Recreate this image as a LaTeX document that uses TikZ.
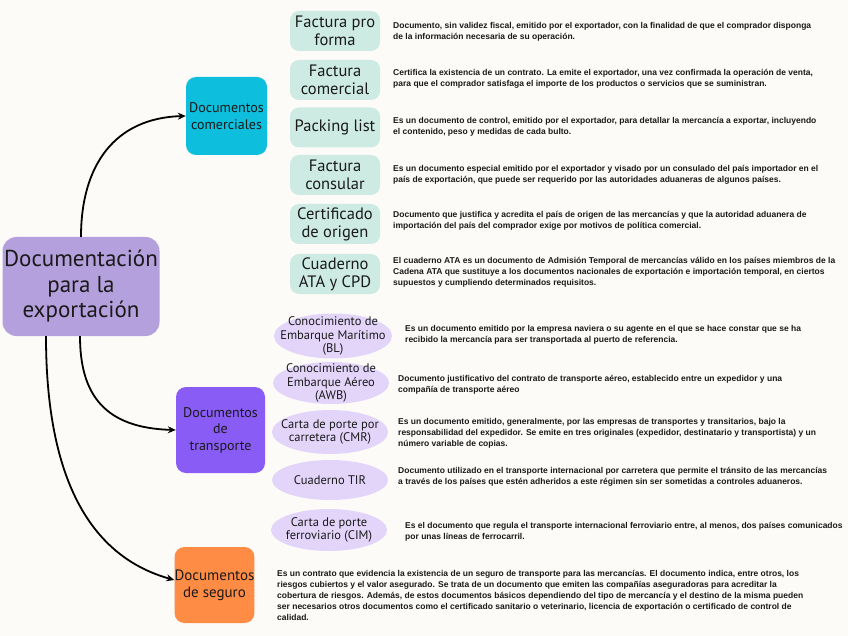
\documentclass[tikz,border=0pt]{standalone}
\usepackage{fontspec}
\setmainfont{Liberation Sans}
\newfontfamily\labelfont{PT Sans}
\usetikzlibrary{arrows.meta,shapes.geometric}
\definecolor{bg}{HTML}{FDFBF8}
\definecolor{mainc}{HTML}{B3A0DD}
\definecolor{commc}{HTML}{0DBFDC}
\definecolor{transc}{HTML}{8A5CF6}
\definecolor{segc}{HTML}{FF8C45}
\definecolor{mint}{HTML}{CDEBE3}
\definecolor{lav}{HTML}{E3D5FA}
\definecolor{txt}{HTML}{1A1A1A}
\tikzset{
  mintbox/.style={fill=mint, rounded corners=9pt, minimum width=90pt, minimum height=40pt, inner sep=0pt, align=center, text=txt, font=\labelfont\fontsize{16.5}{18}\selectfont},
  lavell/.style={ellipse, fill=lav, minimum width=116pt, minimum height=44pt, inner sep=0pt},
  lavtext/.style={inner sep=0pt, align=center, text=txt, font=\labelfont\fontsize{12.5}{13.8}\selectfont},
  desc/.style={anchor=west, inner sep=0pt, align=left, text=txt, font=\fontsize{8.5}{11}\selectfont\bfseries},
  branch/.style={rounded corners=10pt, inner sep=0pt, align=center, text=txt, font=\labelfont\fontsize{14}{16.5}\selectfont},
  conn/.style={-{Stealth[length=8pt,width=7pt]}, line width=1.8pt, black}
}
\begin{document}
\begin{tikzpicture}[x=1pt,y=-1pt]
\useasboundingbox[fill=bg] (0,0) rectangle (848,636);

% main and branches
\node[fill=mainc, rounded corners=14pt, minimum width=157pt, minimum height=99pt, inner sep=0pt, align=center, text=txt, font=\labelfont\fontsize{23}{25.5}\selectfont] (main) at (81,286.5) {Documentación\\para la\\exportación};
\node[branch, fill=commc, minimum width=81pt, minimum height=78pt] (comm) at (226.5,116) {Documentos\\comerciales};
\node[branch, fill=transc, minimum width=89pt, minimum height=86pt] (trans) at (220.5,430) {Documentos\\de\\transporte};
\node[branch, fill=segc, minimum width=79pt, minimum height=76pt, font=\labelfont\fontsize{15}{17}\selectfont] (seg) at (214.5,585) {Documentos\\de seguro};

% connectors
\draw[conn] (main.north) .. controls (81,165) and (115,118) .. (comm.west);
\draw[conn] ([xshift=-1pt]main.south) .. controls (80,395) and (105,428) .. (trans.west);
\draw[conn] ([xshift=-35pt]main.south) .. controls (46,470) and (85,555) .. ([yshift=5pt]seg.west);

% commercial documents
\node[mintbox] (pf) at (335,31) {Factura pro\\forma};
\node[mintbox] (fc) at (335,80) {Factura\\comercial};
\node[mintbox] (pl) at (335,127.5) {Packing list};
\node[mintbox] (fcons) at (335,175) {Factura\\consular};
\node[mintbox] (co) at (335,224) {Certificado\\de origen};
\node[mintbox] (ata) at (335,274) {Cuaderno\\ATA y CPD};

\node[desc] (dpf) at (393,31.5) {Documento, sin validez fiscal, emitido por el exportador, con la finalidad de que el comprador disponga\\de la información necesaria de su operación.};
\node[desc] (dfc) at (393,78.5) {Certifica la existencia de un contrato. La emite el exportador, una vez confirmada la operación de venta,\\para que el comprador satisfaga el importe de los productos o servicios que se suministran.};
\node[desc] (dpl) at (393,127) {Es un documento de control, emitido por el exportador, para detallar la mercancía a exportar, incluyendo\\el contenido, peso y medidas de cada bulto.};
\node[desc] (dfcons) at (393,174.5) {Es un documento especial emitido por el exportador y visado por un consulado del país importador en el\\país de exportación, que puede ser requerido por las autoridades aduaneras de algunos países.};
\node[desc] (dco) at (393,221) {Documento que justifica y acredita el país de origen de las mercancías y que la autoridad aduanera de\\importación del país del comprador exige por motivos de política comercial.};
\node[desc] (data) at (393,272) {El cuaderno ATA es un documento de Admisión Temporal de mercancías válido en los países miembros de la\\Cadena ATA que sustituye a los documentos nacionales de exportación e importación temporal, en ciertos\\supuestos y cumpliendo determinados requisitos.};

% transport documents
\node[lavell, minimum width=118pt, minimum height=45pt] (bl) at (333,336) {};
\node[lavtext] (blt) at (bl) {Conocimiento de\\Embarque Marítimo\\(BL)};
\node[lavell, minimum height=42pt] (awb) at (331,383) {};
\node[lavtext] (awbt) at (awb) {Conocimiento de\\Embarque Aéreo\\(AWB)};
\node[lavell] (cmr) at (330,432) {};
\node[lavtext] (cmrt) at (cmr) {Carta de porte por\\carretera (CMR)};
\node[lavell, minimum height=40pt] (tir) at (330,480) {};
\node[lavtext] (tirt) at (tir) {Cuaderno TIR};
\node[lavell, minimum height=42pt] (cim) at (329,530) {};
\node[lavtext] (cimt) at (cim) {Carta de porte\\ferroviario (CIM)};

\node[desc] (dbl) at (405,334.5) {Es un documento emitido por la empresa naviera o su agente en el que se hace constar que se ha\\recibido la mercancía para ser transportada al puerto de referencia.};
\node[desc] (dawb) at (398,384.5) {Documento justificativo del contrato de transporte aéreo, establecido entre un expedidor y una\\compañía de transporte aéreo};
\node[desc] (dcmr) at (398,433) {Es un documento emitido, generalmente, por las empresas de transportes y transitarios, bajo la\\responsabilidad del expedidor. Se emite en tres originales (expedidor, destinatario y transportista) y un\\número variable de copias.};
\node[desc] (dtir) at (398,476.5) {Documento utilizado en el transporte internacional por carretera que permite el tránsito de las mercancías\\a través de los países que estén adheridos a este régimen sin ser sometidas a controles aduaneros.};
\node[desc] (dcim) at (405,532) {Es el documento que regula el transporte internacional ferroviario entre, al menos, dos países comunicados\\por unas líneas de ferrocarril.};

% insurance
\node[desc] (dseg) at (277,595.5) {Es un contrato que evidencia la existencia de un seguro de transporte para las mercancías. El documento indica, entre otros, los\\riesgos cubiertos y el valor asegurado. Se trata de un documento que emiten las compañías aseguradoras para acreditar la\\cobertura de riesgos. Además, de estos documentos básicos dependiendo del tipo de mercancía y el destino de la misma pueden\\ser necesarios otros documentos como el certificado sanitario o veterinario, licencia de exportación o certificado de control de\\calidad.};
\end{tikzpicture}
\end{document}
